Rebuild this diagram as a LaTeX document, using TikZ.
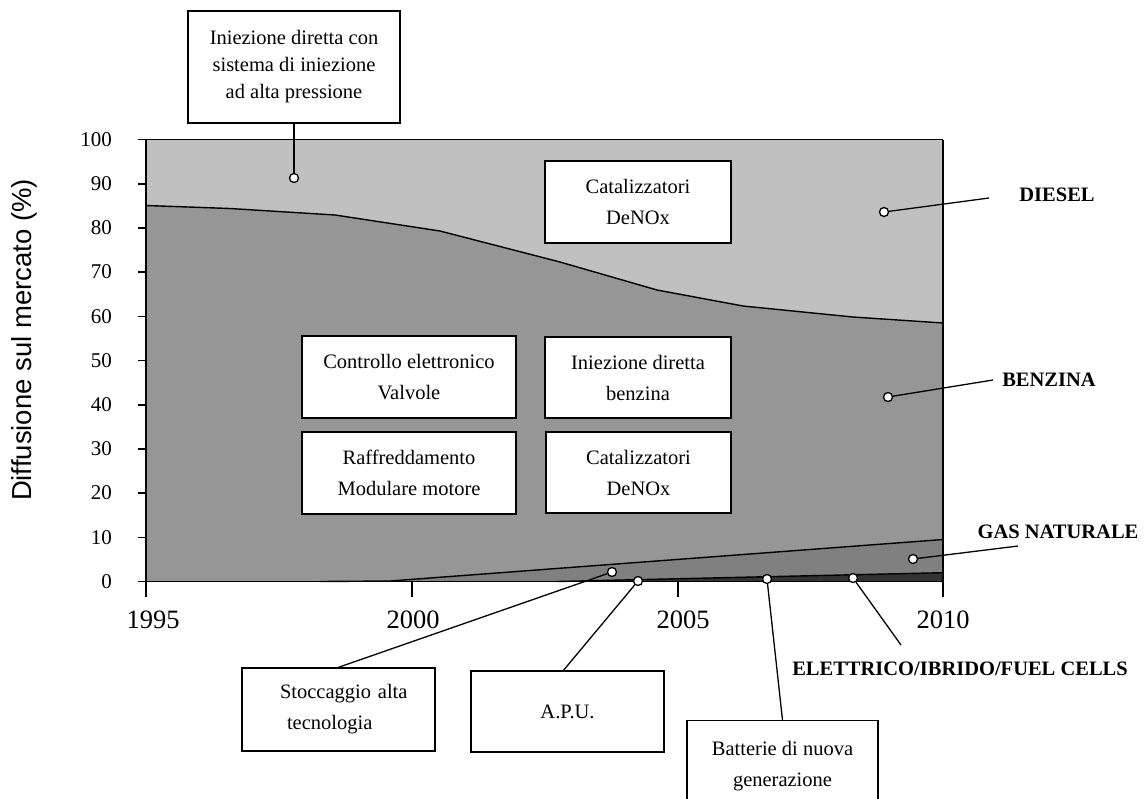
\documentclass[tikz,border=0pt]{standalone}
\usepackage{fontspec}
\setmainfont{Liberation Serif}
\newfontfamily\axsans{Liberation Sans}
\usetikzlibrary{calc}
\definecolor{dieselc}{HTML}{C0C0C0}
\definecolor{benzc}{HTML}{969696}
\definecolor{gasc}{HTML}{808080}
\definecolor{elc}{HTML}{333333}
\tikzset{
  box/.style={draw, line width=1.4pt, fill=white, align=center, inner sep=0pt,
    font=\fontsize{20.5}{31}\selectfont},
  dotm/.style={circle, draw, fill=white, line width=1.3pt, inner sep=0pt, minimum size=9pt},
  callout/.style={line width=1.3pt},
  axisln/.style={line width=1.6pt},
  bndln/.style={line width=1.4pt},
  serieslbl/.style={font=\fontsize{20.5}{24}\selectfont\bfseries, inner sep=0pt},
  ytick/.style={font=\fontsize{21}{24}\selectfont, inner sep=0pt, anchor=east},
  xtick/.style={font=\fontsize{26.5}{30}\selectfont, inner sep=0pt}
}
\begin{document}
\begin{tikzpicture}[x=1pt,y=-1pt]
\useasboundingbox (0,0) rectangle (1145,798);
\clip (0,0) rectangle (1145,798);
% areas
\fill[dieselc] (146,139.5) rectangle (943,581.5);
\fill[benzc] (146,205.5) -- (230,208.5) -- (335,215) -- (440,231) -- (560,262) -- (657,290) -- (743,306) -- (853,317) -- (943,323) -- (943,581.5) -- (146,581.5) -- cycle;
\fill[gasc] (320,581.5) -- (390,581) -- (943,539.5) -- (943,581.5) -- cycle;
\fill[elc] (557,581.5) -- (943,572.7) -- (943,581.5) -- cycle;
% boundary lines
\draw[bndln] (146,205.5) -- (230,208.5) -- (335,215) -- (440,231) -- (560,262) -- (657,290) -- (743,306) -- (853,317) -- (943,323);
\draw[bndln] (320,581.5) -- (390,581) -- (943,539.5);
\draw[bndln] (557,581.5) -- (943,572.7);
% frame and ticks
\draw[axisln] (146,139.5) -- (943,139.5);
\draw[axisln] (146,139.5) -- (146,597);
\draw[axisln] (943,139.5) -- (943,597);
\draw[axisln] (138,581.5) -- (943,581.5);
\foreach \v in {0,10,...,100} {
  \draw[axisln] (138,{581.5-4.42*\v}) -- (146,{581.5-4.42*\v});
  \node[ytick] (yl\v) at (112,{581.5-4.42*\v}) {\v};
}
\draw[axisln] (412,581.5) -- (412,597);
\draw[axisln] (678,581.5) -- (678,597);
\node[xtick] (x1995) at (153,620) {1995};
\node[xtick] (x2000) at (413,620) {2000};
\node[xtick] (x2005) at (683,620) {2005};
\node[xtick] (x2010) at (943,620) {2010};
\node[rotate=90, inner sep=0pt, font=\axsans\fontsize{27.5}{30}\selectfont] (ytitle) at (24.5,340) {Diffusione sul mercato (\%)};
% inner boxes
\node[box, minimum width=186pt, minimum height=82pt] (catTop) at (638,202) {Catalizzatori\\DeNOx};
\node[box, minimum width=186pt, minimum height=81pt] (iniez) at (638,377.5) {Iniezione diretta\\benzina};
\node[box, minimum width=214pt, minimum height=82pt] (contr) at (409,377) {Controllo elettronico\\Valvole};
\node[box, minimum width=214pt, minimum height=82pt] (raffr) at (409,473) {Raffreddamento\\Modulare motore};
\node[box, minimum width=185pt, minimum height=81pt] (catBot) at (638.5,472.5) {Catalizzatori\\DeNOx};
% outer boxes
\node[box, font=\fontsize{20.5}{27}\selectfont, minimum width=212pt, minimum height=112pt] (topbox) at (294,67) {Iniezione diretta con\\sistema di iniezione\\ad alta pressione};
\node[box, align=left, minimum width=193pt, minimum height=83pt, text width=165pt] (stocc) at (338.5,709.5) {\hspace*{24pt}Stoccaggio alta\\\hspace*{31pt}tecnologia};
\node[box, minimum width=193pt, minimum height=81pt] (apu) at (567.5,711.5) {A.P.U.};
\node[box, anchor=north, minimum width=191pt, minimum height=90pt] (batt) at (782.5,720) {Batterie di nuova\\generazione};
% series labels
\node[serieslbl] (lDiesel) at (1057,194.5) {DIESEL};
\node[serieslbl] (lBenz) at (1049,380) {BENZINA};
\node[serieslbl] (lGas) at (1058,532) {GAS NATURALE};
\node[serieslbl] (lElet) at (960,669) {ELETTRICO/IBRIDO/FUEL CELLS};
% callout ends
\coordinate (eDiesel) at (989,198);
\coordinate (eBenz) at (993,380);
\coordinate (eGas) at (1018,546);
\coordinate (eElet) at (901,645);
% dots
\node[dotm] (dTop) at (294,178) {};
\node[dotm] (dDiesel) at (884,212) {};
\node[dotm] (dBenz) at (888,397) {};
\node[dotm] (dGas) at (913,559) {};
\node[dotm] (dElet) at (853,578) {};
\node[dotm] (dBatt) at (767,579) {};
\node[dotm] (dApu) at (638,581) {};
\node[dotm] (dStocc) at (612,572) {};
% callouts
\draw[callout] (topbox.south) -- (dTop);
\draw[callout] (dDiesel) -- (eDiesel);
\draw[callout] (dBenz) -- (eBenz);
\draw[callout] (dGas) -- (eGas);
\draw[callout] (dElet) -- (eElet);
\draw[callout] (dBatt) -- (batt.north);
\draw[callout] (dApu) -- ($(apu.north)+(-4,0)$);
\draw[callout] (dStocc) -- (stocc.north);
\end{tikzpicture}
\end{document}
